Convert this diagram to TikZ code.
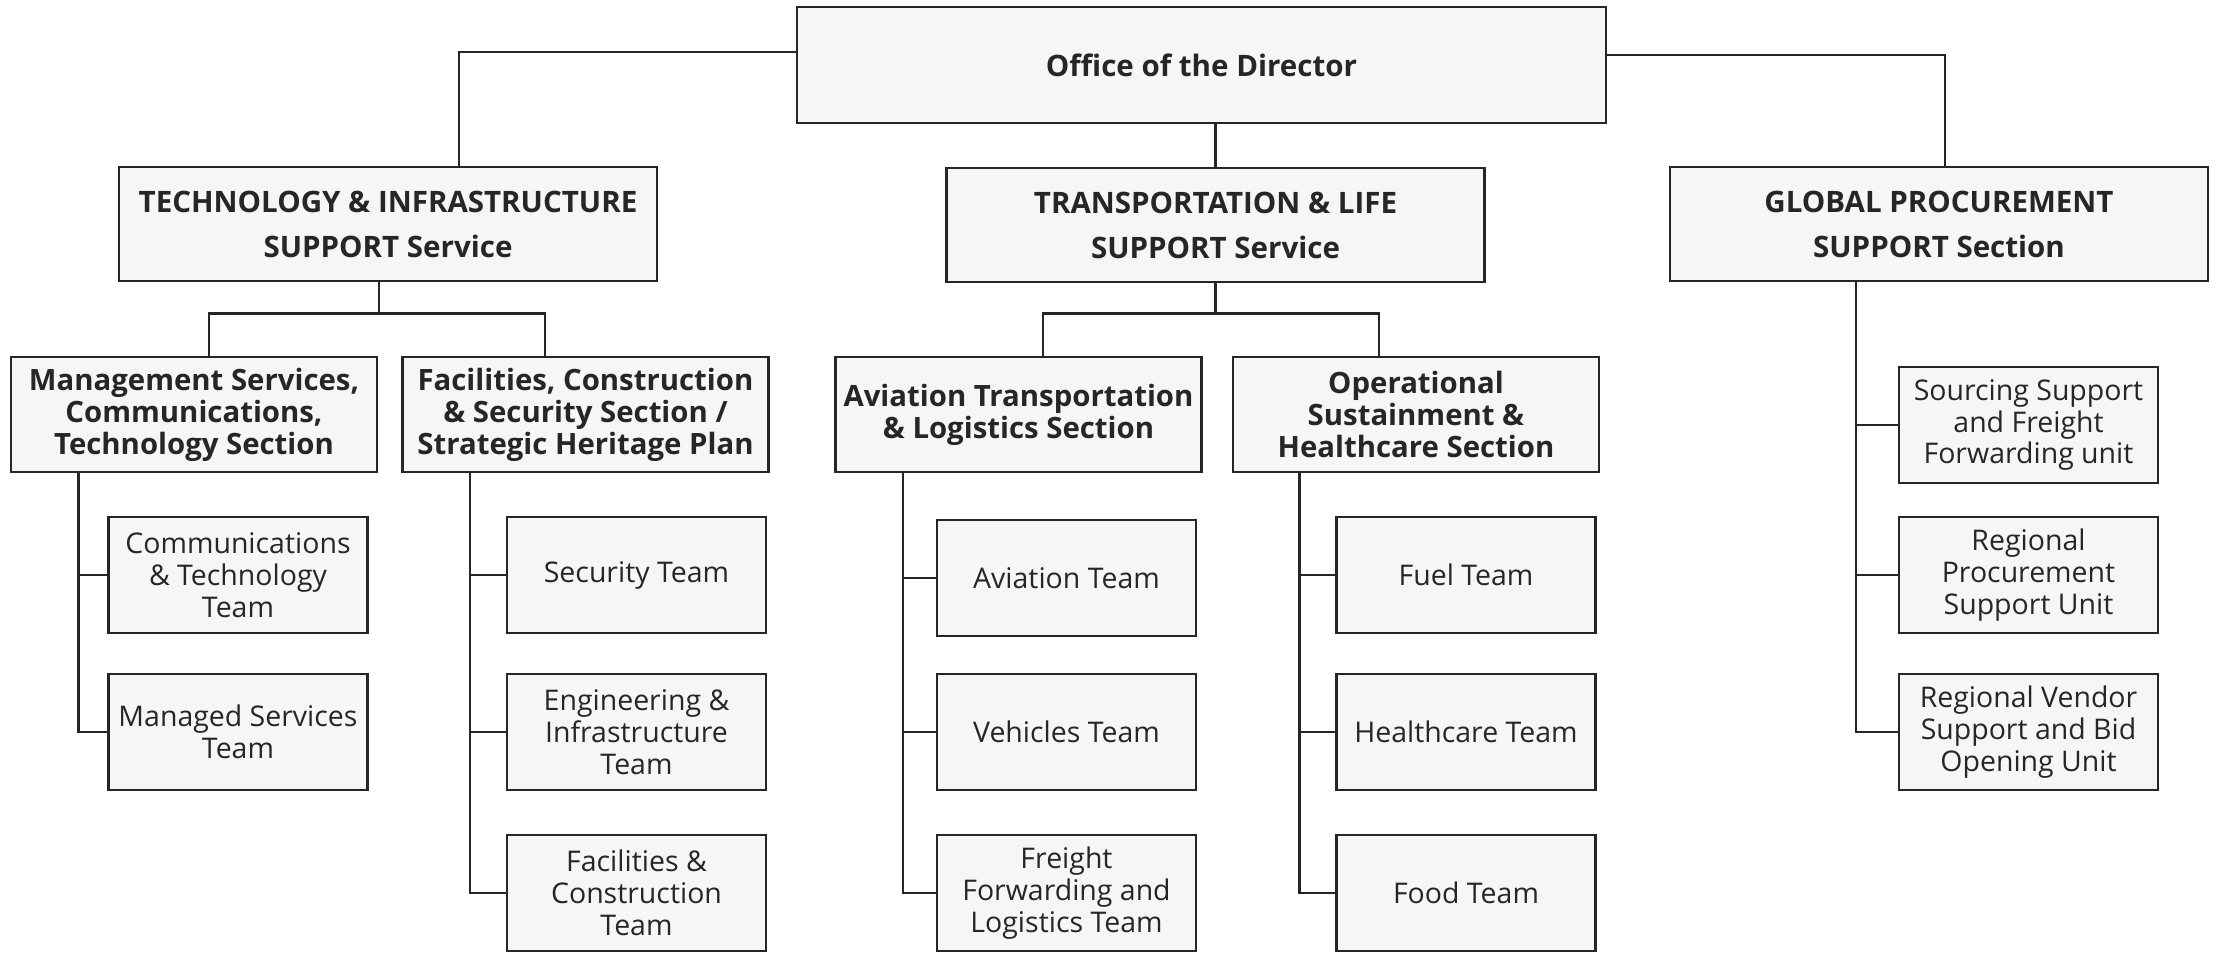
\documentclass[tikz,border=0pt]{standalone}
\usepackage{fontspec}
\setmainfont{Open Sans}
\definecolor{boxfill}{HTML}{F6F6F6}
\definecolor{ink}{HTML}{262626}
\tikzset{
  unit/.style={draw=ink, fill=boxfill, line width=0.8pt, text=ink, align=center, inner sep=0pt, minimum height=11.6mm},
  service/.style={unit, minimum width=53.8mm, minimum height=11.4mm, font=\fontsize{8.4}{12.8}\selectfont\bfseries},
  section/.style={unit, minimum width=36.6mm, minimum height=11.5mm, font=\fontsize{8.35}{9.1}\selectfont\bfseries},
  team/.style={unit, minimum width=25.9mm, font=\fontsize{8.1}{9.1}\selectfont},
  link/.style={draw=ink, line width=0.75pt}
}
\begin{document}
\begin{tikzpicture}[x=0.1mm,y=-0.1mm]
  \useasboundingbox (0,0) rectangle (2215,953);
  \node[unit, minimum width=80.9mm, font=\fontsize{8.4}{9}\selectfont\bfseries] (dir) at (1201.5,65) {Office of the Director};
  \node[service] (tech)  at (388,224)    {TECHNOLOGY \& INFRASTRUCTURE\\SUPPORT Service};
  \node[service] (trans) at (1215.5,225) {TRANSPORTATION \& LIFE\\SUPPORT Service};
  \node[service] (glob)  at (1939,224)   {GLOBAL PROCUREMENT\\SUPPORT Section};
  \node[section] (mgmt) at (194,414.5)  {Management Services,\\Communications,\\Technology Section};
  \node[section] (facs) at (585.5,414.5) {Facilities, Construction\\\& Security Section /\\Strategic Heritage Plan};
  \node[section] (avs)  at (1018.5,414.5) {Aviation Transportation\\\& Logistics Section};
  \node[section] (ops)  at (1416,414.5) {Operational\\Sustainment \&\\Healthcare Section};
  \draw[link] ([yshift=1.3mm]dir.west) -| ([xshift=7.1mm]tech.north);
  \draw[link] ([yshift=1mm]dir.east) -| ([xshift=0.6mm]glob.north);
  \draw[link] (dir.south -| trans.north) -- (trans.north);
  \draw[link] ([xshift=-0.9mm]tech.south) -- ++(0,31) coordinate (tk);
  \draw[link] ([xshift=1.5mm]mgmt.north) |- (tk) -| ([xshift=-4.05mm]facs.north);
  \draw[link] (trans.south) -- ++(0,30) coordinate (tr);
  \draw[link] ([xshift=2.45mm]avs.north) |- (tr) -| ([xshift=-3.7mm]ops.north);
  \foreach \name/\ypos/\label in {comm/575/{Communications\\\& Technology\\Team}, man/732/{Managed Services\\Team}} {
    \node[team] (\name) at (238,\ypos) {\label};
    \draw[link] ([xshift=6.9mm]mgmt.south west) |- (\name.west);
  }
  \foreach \name/\ypos/\label in {sec/575/{Security Team}, eng/732/{Engineering \&\\Infrastructure\\Team}, fac/893/{Facilities \&\\Construction\\Team}} {
    \node[team] (\name) at (636.5,\ypos) {\label};
    \draw[link] ([xshift=6.9mm]facs.south west) |- (\name.west);
  }
  \foreach \name/\ypos/\label in {avt/578/{Aviation Team}, veh/732/{Vehicles Team}, frt/893/{Freight\\Forwarding and\\Logistics Team}} {
    \node[team] (\name) at (1066.5,\ypos) {\label};
    \draw[link] ([xshift=6.9mm]avs.south west) |- (\name.west);
  }
  \foreach \name/\ypos/\label in {fuel/575/{Fuel Team}, hlth/732/{Healthcare Team}, food/893/{Food Team}} {
    \node[team] (\name) at (1466,\ypos) {\label};
    \draw[link] ([xshift=6.8mm]ops.south west) |- (\name.west);
  }
  \foreach \name/\ypos/\label in {src/425/{Sourcing Support\\and Freight\\Forwarding unit}, rps/575/{Regional\\Procurement\\Support Unit}, rvs/732/{Regional Vendor\\Support and Bid\\Opening Unit}} {
    \node[team] (\name) at (2028.5,\ypos) {\label};
    \draw[link] ([xshift=-8.3mm]glob.south) |- (\name.west);
  }
\end{tikzpicture}
\end{document}
